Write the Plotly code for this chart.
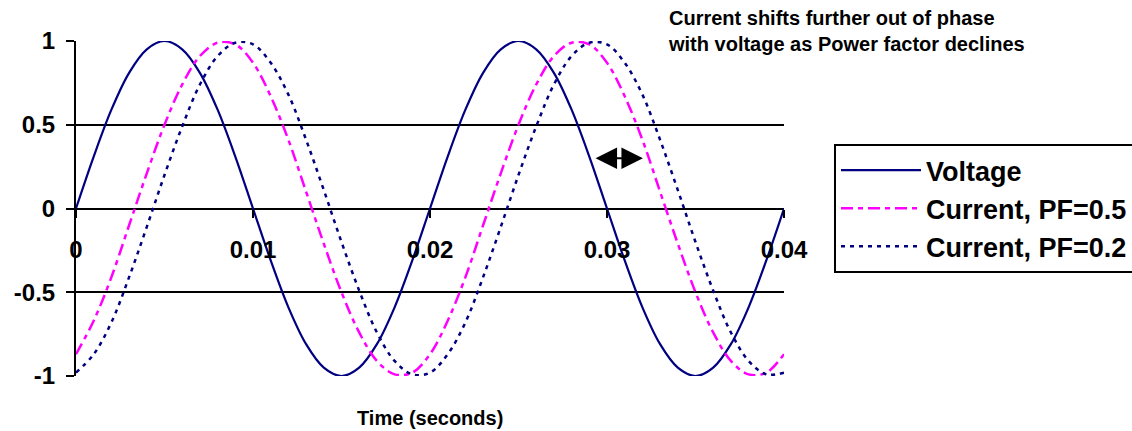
import plotly.graph_objects as go

# Time samples (seconds)
time_s = [0.000, 0.001, 0.002, 0.003, 0.004, 0.005, 0.006, 0.007, 0.008, 0.009,
          0.010, 0.011, 0.012, 0.013, 0.014, 0.015, 0.016, 0.017, 0.018, 0.019,
          0.020, 0.021, 0.022, 0.023, 0.024, 0.025, 0.026, 0.027, 0.028, 0.029,
          0.030, 0.031, 0.032, 0.033, 0.034, 0.035, 0.036, 0.037, 0.038, 0.039,
          0.040]

voltage = [0.00, 0.31, 0.59, 0.81, 0.95, 1.00, 0.95, 0.81, 0.59, 0.31,
           0.00, -0.31, -0.59, -0.81, -0.95, -1.00, -0.95, -0.81, -0.59, -0.31,
           0.00, 0.31, 0.59, 0.81, 0.95, 1.00, 0.95, 0.81, 0.59, 0.31,
           0.00, -0.31, -0.59, -0.81, -0.95, -1.00, -0.95, -0.81, -0.59, -0.31,
           0.00]

current_pf05 = [-0.87, -0.67, -0.41, -0.10, 0.21, 0.50, 0.74, 0.91, 0.99, 0.98,
                0.87, 0.67, 0.41, 0.10, -0.21, -0.50, -0.74, -0.91, -0.99, -0.98,
                -0.87, -0.67, -0.41, -0.10, 0.21, 0.50, 0.74, 0.91, 0.99, 0.98,
                0.87, 0.67, 0.41, 0.10, -0.21, -0.50, -0.74, -0.91, -0.99, -0.98,
                -0.87]

current_pf02 = [-0.98, -0.87, -0.68, -0.41, -0.11, 0.20, 0.49, 0.74, 0.91, 0.99,
                0.98, 0.87, 0.68, 0.41, 0.11, -0.20, -0.49, -0.74, -0.91, -0.99,
                -0.98, -0.87, -0.68, -0.41, -0.11, 0.20, 0.49, 0.74, 0.91, 0.99,
                0.98, 0.87, 0.68, 0.41, 0.11, -0.20, -0.49, -0.74, -0.91, -0.99,
                -0.98]

x_tick_vals = [0, 0.01, 0.02, 0.03, 0.04]
x_tick_text = ["0", "0.01", "0.02", "0.03", "0.04"]
y_tick_vals = [-1, -0.5, 0, 0.5, 1]
y_tick_text = ["-1", "-0.5", "0", "0.5", "1"]

series_names = ["Voltage", "Current, PF=0.5", "Current, PF=0.2"]

# phase-shift arrow (data coordinates)
arrow_x_start = 0.02927
arrow_x_end = 0.03203
arrow_y = 0.30

FONT = "Arial, Liberation Sans, sans-serif"

fig = go.Figure()
fig.add_trace(go.Scatter(x=time_s, y=voltage, name=series_names[0], mode="lines",
                         line=dict(color="#000080", width=2.2, shape="spline")))
fig.add_trace(go.Scatter(x=time_s, y=current_pf05, name=series_names[1], mode="lines",
                         line=dict(color="#FF00FF", width=2.5, shape="spline",
                                   dash="12px,5px,5px,5px")))
fig.add_trace(go.Scatter(x=time_s, y=current_pf02, name=series_names[2], mode="lines",
                         line=dict(color="#000080", width=2.5, shape="spline",
                                   dash="4px,5px")))

L, R, T, B = 76, 348, 41, 55
W, H = 1132, 431
pw, ph = W - L - R, H - T - B

def px_x(px):
    return (px - L) / pw

def px_y(py):
    return (H - B - py) / ph

fig.update_layout(
    width=W, height=H,
    margin=dict(l=L, r=R, t=T, b=B, autoexpand=False),
    paper_bgcolor="white", plot_bgcolor="white",
    font=dict(family=FONT, color="black"),
    xaxis=dict(range=[0, 0.04], anchor="free", position=0.5,
               showgrid=False, zeroline=False, showline=False,
               ticks="outside", ticklen=8, tickwidth=2, tickcolor="black",
               tickvals=x_tick_vals, ticktext=x_tick_text,
               ticklabelstandoff=12,
               tickfont=dict(family=FONT, size=24, color="black", weight="bold")),
    yaxis=dict(range=[-1, 1], showgrid=True, gridcolor="black", gridwidth=2,
               zeroline=False, showline=True, linecolor="black", linewidth=2,
               ticks="outside", ticklen=8, tickwidth=2, tickcolor="black",
               tickvals=y_tick_vals, ticktext=y_tick_text,
               ticklabelstandoff=6,
               tickfont=dict(family=FONT, size=24, color="black", weight="bold")),
    legend=dict(x=px_x(834), y=px_y(144), xanchor="left", yanchor="top",
                bordercolor="black", borderwidth=2, bgcolor="white",
                itemwidth=80,
                font=dict(family=FONT, size=27, color="black", weight="bold")),
    showlegend=True,
)

fig.add_annotation(xref="paper", yref="paper", x=px_x(666), y=px_y(5),
                   xanchor="left", yanchor="top", align="left", showarrow=False,
                   text="Current shifts further out of phase<br>with voltage as Power factor declines",
                   font=dict(family=FONT, size=20, color="black", weight="bold"))

fig.add_annotation(xref="paper", yref="paper", x=0.5, y=px_y(418),
                   xanchor="center", yanchor="middle", showarrow=False,
                   text="Time (seconds)",
                   font=dict(family=FONT, size=20, color="black", weight="bold"))

fig.add_annotation(xref="x", yref="y", x=arrow_x_end, y=arrow_y,
                   axref="x", ayref="y", ax=arrow_x_start, ay=arrow_y,
                   text="", showarrow=True, arrowside="end+start",
                   arrowhead=2, startarrowhead=2, arrowsize=2.15, startarrowsize=2.15,
                   arrowwidth=2, arrowcolor="black")

fig.write_html("out.html")
